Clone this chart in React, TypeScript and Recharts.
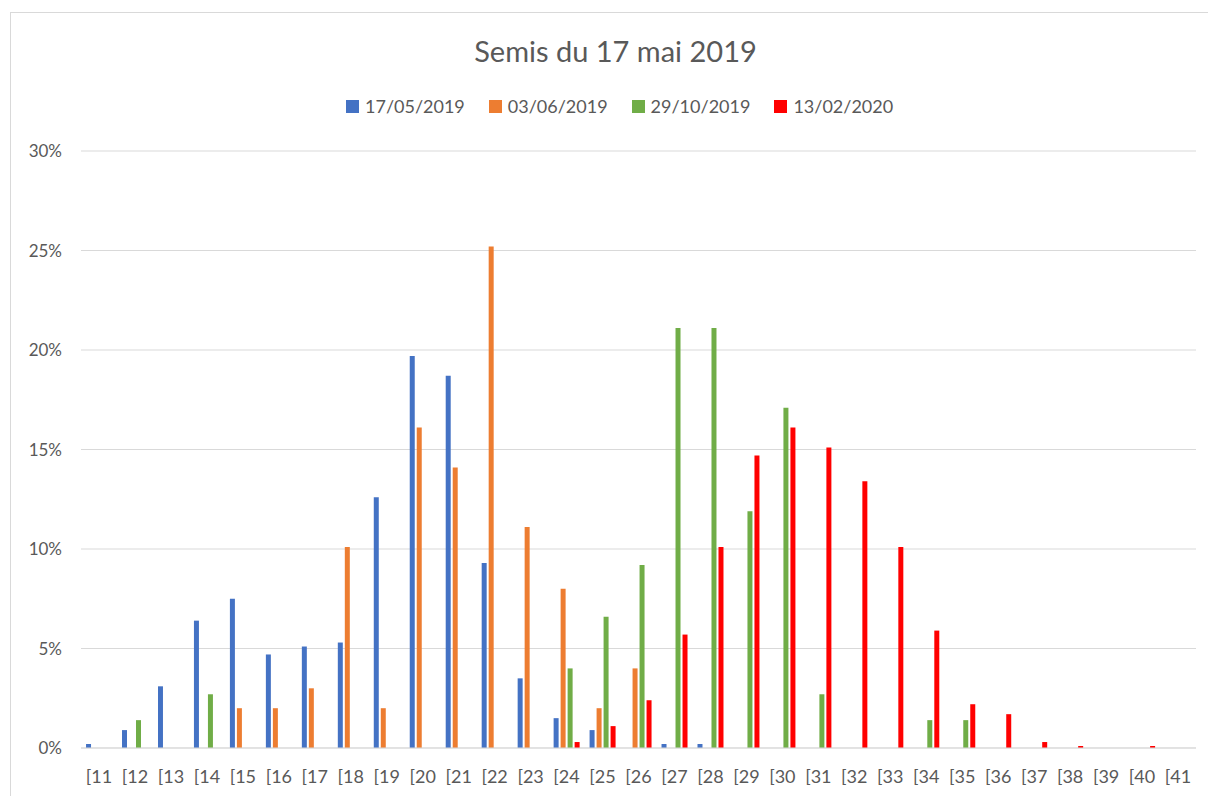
import { BarChart, Bar, XAxis, YAxis, CartesianGrid } from 'recharts'

// Classes de taille [11 .. [41
const categories = [
  '[11', '[12', '[13', '[14', '[15', '[16', '[17', '[18', '[19', '[20',
  '[21', '[22', '[23', '[24', '[25', '[26', '[27', '[28', '[29', '[30',
  '[31', '[32', '[33', '[34', '[35', '[36', '[37', '[38', '[39', '[40', '[41',
]

// Pourcentages par date de mesure
const mesure170519 = [
  0.2, 0.9, 3.1, 6.4, 7.5, 4.7, 5.1, 5.3, 12.6, 19.7,
  18.7, 9.3, 3.5, 1.5, 0.9, 0, 0.2, 0.2, 0, 0,
  0, 0, 0, 0, 0, 0, 0, 0, 0, 0, 0,
]
const mesure030619 = [
  0, 0, 0, 0, 2.0, 2.0, 3.0, 10.1, 2.0, 16.1,
  14.1, 25.2, 11.1, 8.0, 2.0, 4.0, 0, 0, 0, 0,
  0, 0, 0, 0, 0, 0, 0, 0, 0, 0, 0,
]
const mesure291019 = [
  0, 1.4, 0, 2.7, 0, 0, 0, 0, 0, 0,
  0, 0, 0, 4.0, 6.6, 9.2, 21.1, 21.1, 11.9, 17.1,
  2.7, 0, 0, 1.4, 1.4, 0, 0, 0, 0, 0, 0,
]
const mesure130220 = [
  0, 0, 0, 0, 0, 0, 0, 0, 0, 0,
  0, 0, 0, 0.3, 1.1, 2.4, 5.7, 10.1, 14.7, 16.1,
  15.1, 13.4, 10.1, 5.9, 2.2, 1.7, 0.3, 0.1, 0, 0.1, 0,
]

const yTicks = [0, 5, 10, 15, 20, 25, 30]

const series = [
  { key: '17/05/2019', values: mesure170519, color: '#4472C4' },
  { key: '03/06/2019', values: mesure030619, color: '#ED7D31' },
  { key: '29/10/2019', values: mesure291019, color: '#70AD47' },
  { key: '13/02/2020', values: mesure130220, color: '#FF0000' },
]

const chartData = categories.map((c, i) => {
  const row: Record<string, string | number> = { classe: c }
  series.forEach((s) => {
    row[s.key] = s.values[i]
  })
  return row
})

const font = 'Lato, "Open Sans", "Liberation Sans", sans-serif'
const grey = '#595959'

export default function App() {
  return (
    <div
      style={{
        position: 'absolute',
        left: 0,
        top: 0,
        width: 1208,
        height: 796,
        overflow: 'hidden',
        background: '#fff',
        fontFamily: font,
      }}
    >
      <div
        style={{
          position: 'absolute',
          left: 10,
          top: 12,
          width: 1400,
          height: 1000,
          border: '1px solid #d9d9d9',
        }}
      />
      <div
        style={{
          position: 'absolute',
          left: 0,
          width: 1231,
          top: 36,
          textAlign: 'center',
          fontSize: 29,
          lineHeight: '29px',
          color: grey,
        }}
      >
        Semis du 17 mai 2019
      </div>
      <div
        style={{
          position: 'absolute',
          left: 346,
          top: 97,
          display: 'flex',
          gap: 24,
          fontSize: 18,
          lineHeight: '18px',
          color: grey,
        }}
      >
        {series.map((s) => (
          <span key={s.key} style={{ display: 'flex', alignItems: 'center', gap: 6 }}>
            <span style={{ width: 13, height: 13, background: s.color, display: 'inline-block' }} />
            <span>{s.key}</span>
          </span>
        ))}
      </div>
      <div style={{ position: 'absolute', left: 0, top: 0 }}>
        <BarChart
          width={1208}
          height={796}
          data={chartData}
          margin={{ top: 151, right: 12, left: 11, bottom: 8 }}
          barCategoryGap="14%"
          barGap={2}
        >
          <CartesianGrid vertical={false} stroke="#d9d9d9" strokeWidth={1} />
          <XAxis
            dataKey="classe"
            interval={0}
            height={40}
            tickLine={false}
            tickMargin={16}
            axisLine={{ stroke: '#d9d9d9' }}
            tick={{ fill: grey, fontSize: 18, fontFamily: font }}
          />
          <YAxis
            domain={[0, 30]}
            ticks={yTicks}
            width={70}
            axisLine={false}
            tickLine={false}
            tickMargin={13}
            tick={{ fill: grey, fontSize: 17, fontFamily: font }}
            tickFormatter={(v: number) => `${v}%`}
          />
          {series.map((s) => (
            <Bar key={s.key} dataKey={s.key} fill={s.color} isAnimationActive={false} />
          ))}
        </BarChart>
      </div>
    </div>
  )
}
